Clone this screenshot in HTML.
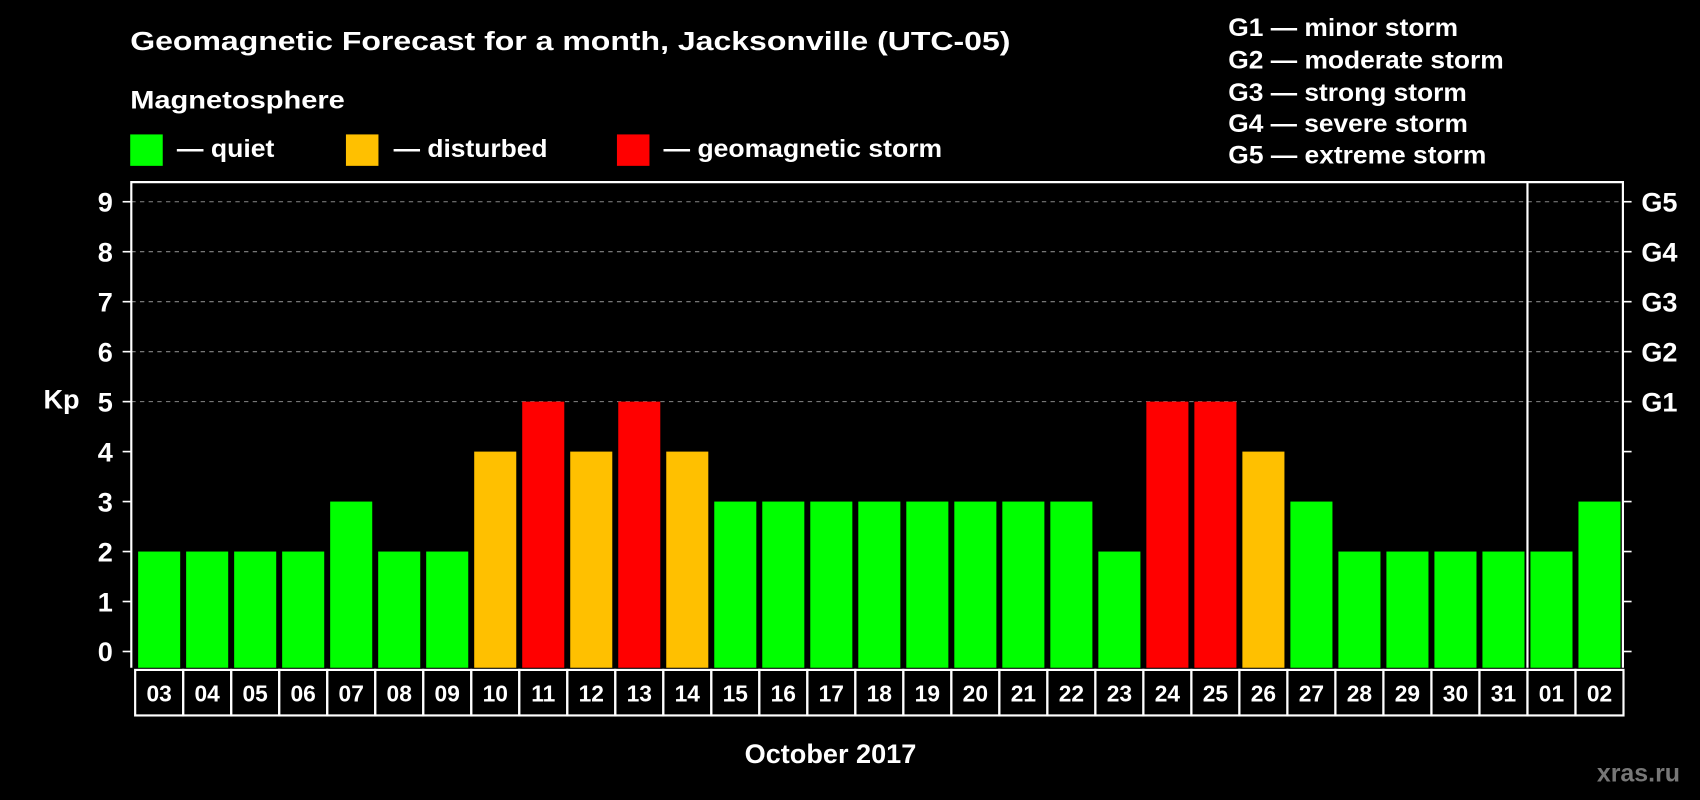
<!DOCTYPE html>
<html><head><meta charset="utf-8">
<style>
html,body{margin:0;padding:0;background:#000;}
svg{display:block;font-family:"Liberation Sans",sans-serif;font-weight:bold;}
</style></head>
<body>
<svg id="chart" width="1700" height="800" viewBox="0 0 1568 738" xmlns="http://www.w3.org/2000/svg">
<rect width="1568" height="738" fill="#000"/>
<text x="120" y="46" fill="#fff" font-size="24" textLength="812" lengthAdjust="spacingAndGlyphs">Geomagnetic Forecast for a month, Jacksonville (UTC-05)</text>
<text x="120" y="100" fill="#fff" font-size="23" textLength="198" lengthAdjust="spacingAndGlyphs">Magnetosphere</text>
<g>
<rect x="120" y="124" width="30" height="29" fill="#00ff00"/>
<text x="163" y="145" fill="#fff" font-size="23" textLength="90" lengthAdjust="spacingAndGlyphs">— quiet</text></g>
<g>
<rect x="319" y="124" width="30" height="29" fill="#ffc000"/>
<text x="363" y="145" fill="#fff" font-size="23" textLength="142" lengthAdjust="spacingAndGlyphs">— disturbed</text></g>
<g>
<rect x="569" y="124" width="30" height="29" fill="#ff0000"/>
<text x="612" y="145" fill="#fff" font-size="23" textLength="257" lengthAdjust="spacingAndGlyphs">— geomagnetic storm</text></g>
<g fill="#fff" font-size="23">
<text x="1133" y="33" textLength="212" lengthAdjust="spacingAndGlyphs">G1 — minor storm</text>
<text x="1133" y="63" textLength="254" lengthAdjust="spacingAndGlyphs">G2 — moderate storm</text>
<text x="1133" y="93" textLength="220" lengthAdjust="spacingAndGlyphs">G3 — strong storm</text>
<text x="1133" y="122" textLength="221" lengthAdjust="spacingAndGlyphs">G4 — severe storm</text>
<text x="1133" y="151" textLength="238" lengthAdjust="spacingAndGlyphs">G5 — extreme storm</text>
</g>
<text x="40" y="377" fill="#fff" font-size="25">Kp</text>
<text x="766" y="704" fill="#fff" font-size="25" text-anchor="middle">October 2017</text>
<text x="1473" y="721" fill="#777" font-size="23">xras.ru</text>
<g id="grid"></g>
<g id="bars"></g>
<g id="axes"></g>
</svg>
<script>
const days = ["03","04","05","06","07","08","09","10","11","12","13","14","15","16","17","18","19","20","21","22","23","24","25","26","27","28","29","30","31","01","02"];
const kp = [2,2,2,2,3,2,2,4,5,4,5,4,3,3,3,3,3,3,3,3,2,5,5,4,3,2,2,2,2,2,3];
const yTicks = [0,1,2,3,4,5,6,7,8,9];
const gLabels = ["G1","G2","G3","G4","G5"];
const gLevels = [5,6,7,8,9];
const monthBreakIndex = 29;

const NS = "http://www.w3.org/2000/svg";
const plotLeft = 121, plotRight = 1497, plotTop = 168, plotBottom = 616;
const y0 = 601, unit = 46.1;
const x0 = 127.3, pitch = 44.29, bw = 38.8;
const yScale = v => y0 - v * unit;
const xScale = i => x0 + i * pitch;
function mk(tag, attrs, parent){const e=document.createElementNS(NS,tag);for(const k in attrs)e.setAttribute(k,attrs[k]);parent.appendChild(e);return e;}
const gridG=document.getElementById('grid'), barsG=document.getElementById('bars'), axesG=document.getElementById('axes');

gLevels.forEach(v=>{
  const l=mk('line',{x1:plotLeft,x2:plotRight,y1:yScale(v),y2:yScale(v),stroke:'#888','stroke-width':1,'stroke-dasharray':'4,4'},gridG);
  
  
});
kp.forEach((v,i)=>{
  const c = v>=5?'#ff0000':(v>=4?'#ffc000':'#00ff00');
  const r=mk('rect',{x:xScale(i),y:yScale(v),width:bw,height:plotBottom-yScale(v),fill:c},barsG);
  
  
});
const frame=mk('polyline',{points:`${plotLeft},${plotBottom} ${plotLeft},${plotTop} ${plotRight},${plotTop} ${plotRight},${plotBottom}`,fill:'none',stroke:'#fff','stroke-width':2},axesG);


const divX = xScale(monthBreakIndex) - (pitch-bw)/2;
const dv=mk('line',{x1:divX,x2:divX,y1:plotTop,y2:plotBottom,stroke:'#fff','stroke-width':2},axesG);


yTicks.forEach(v=>{
  const y=yScale(v);
  mk('line',{x1:plotLeft-8,x2:plotLeft,y1:y,y2:y,stroke:'#fff','stroke-width':1.5},axesG);
  mk('line',{x1:plotRight,x2:plotRight+8,y1:y,y2:y,stroke:'#fff','stroke-width':1.5},axesG);
  const t=mk('text',{x:104,y:y+9,fill:'#fff','font-size':25,'text-anchor':'end'},axesG);
  t.textContent=v;
  
  
});
gLabels.forEach((g,i)=>{
  const t=mk('text',{x:1514,y:yScale(gLevels[i])+9,fill:'#fff','font-size':25},axesG);
  t.textContent=g;
  
  
});
days.forEach((d,i)=>{
  const bx = xScale(i) - (pitch-bw)/2;
  const r=mk('rect',{x:bx,y:618,width:pitch,height:42,fill:'none',stroke:'#fff','stroke-width':2},axesG);
  
  
  const t=mk('text',{x:bx+pitch/2,y:647,fill:'#fff','font-size':21,'text-anchor':'middle'},axesG);
  t.textContent=d;
  
  
});
</script>
</body></html>
